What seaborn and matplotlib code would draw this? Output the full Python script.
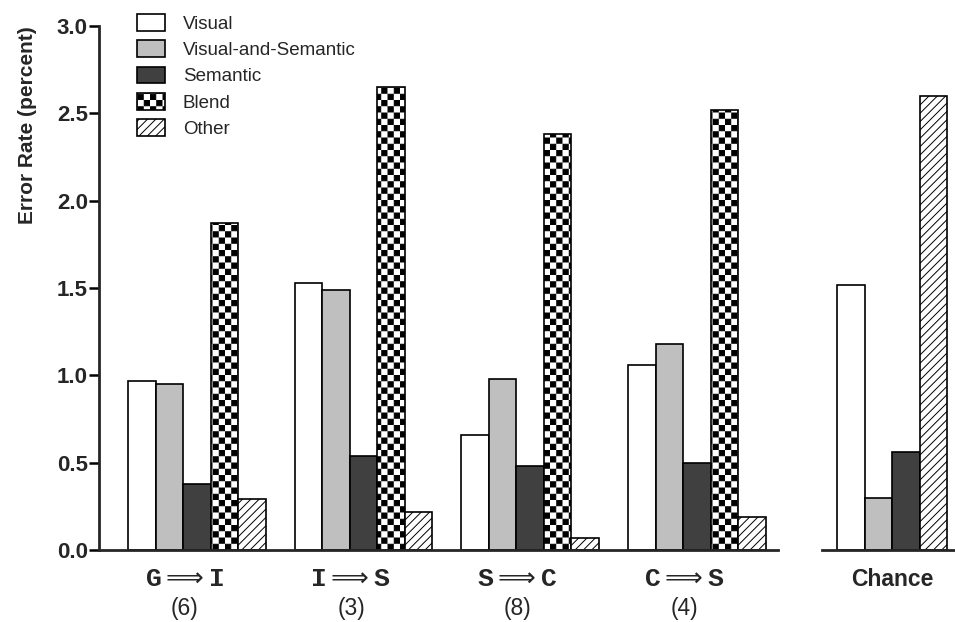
import warnings
import numpy as np
import pandas as pd
import matplotlib
matplotlib.use('Agg')
import matplotlib.pyplot as plt
import matplotlib.hatch as mhatch
import matplotlib.transforms as mtrans
from matplotlib.path import Path
import seaborn as sns
warnings.filterwarnings('ignore')

# error rates (percent)
pairs = [r'G$\Longrightarrow$I', r'I$\Longrightarrow$S', r'S$\Longrightarrow$C', r'C$\Longrightarrow$S']
counts = ['(6)', '(3)', '(8)', '(4)']
types = ['Visual', 'Visual-and-Semantic', 'Semantic', 'Blend', 'Other']
visual = [0.97, 1.53, 0.66, 1.06]
vis_sem = [0.95, 1.49, 0.98, 1.18]
semantic = [0.38, 0.54, 0.48, 0.50]
blend = [1.87, 2.65, 2.38, 2.52]
other = [0.29, 0.22, 0.07, 0.19]

chance_label = 'Chance'
chance_types = ['Visual', 'Visual-and-Semantic', 'Semantic', 'Other']
chance_vals = [1.52, 0.30, 0.56, 2.60]

fills = {'Visual': 'white', 'Visual-and-Semantic': '#bfbfbf', 'Semantic': '#404040',
         'Blend': 'white', 'Other': 'white'}
hatches = {'Blend': 'c', 'Other': '////'}


# checkerboard hatch, matplotlib has none built in
class CheckerHatch(mhatch.HatchPatternBase):
    def __init__(self, hatch, density):
        self.n = 16 if 'c' in hatch else 0
        self.num_vertices = 5 * (self.n * self.n // 2)

    def set_vertices_and_codes(self, vertices, codes):
        s = 1.0 / self.n
        d = 0.005
        k = 0
        for i in range(self.n):
            for j in range(self.n):
                if (i + j) % 2:
                    continue
                x, y = i * s, j * s
                vertices[k:k + 5] = [(x + d, y + d), (x + s - d, y + d), (x + s - d, y + s - d),
                                     (x + d, y + s - d), (x + d, y + d)]
                codes[k:k + 5] = [Path.MOVETO, Path.LINETO, Path.LINETO, Path.LINETO, Path.CLOSEPOLY]
                k += 5


mhatch._hatch_types.append(CheckerHatch)

sns.set_theme(style='ticks')
plt.rcParams['font.family'] = ['Liberation Sans', 'DejaVu Sans']
plt.rcParams['hatch.linewidth'] = 0.7
plt.rcParams['hatch.color'] = 'black'

rows = []
for i, p in enumerate(pairs):
    for t, series in zip(types, [visual, vis_sem, semantic, blend, other]):
        rows.append((p, t, series[i]))
df = pd.DataFrame(rows, columns=['pair', 'type', 'rate'])
chance_df = pd.DataFrame({'pair': [chance_label] * len(chance_types), 'type': chance_types, 'rate': chance_vals})

fig = plt.figure(figsize=(9.55, 6.22), dpi=100)
ax = fig.add_axes([99 / 955, 72 / 622, 679 / 955, 524 / 622])
ax2 = fig.add_axes([822 / 955, 72 / 622, 133 / 955, 524 / 622])

sns.barplot(data=df, x='pair', y='rate', hue='type', hue_order=types, palette=fills,
            width=0.825, saturation=1, edgecolor='black', linewidth=1.2,
            errorbar=None, legend=False, ax=ax)
for t, cont in zip(types, ax.containers):
    for bar in cont:
        bar.set_hatch(hatches.get(t))

sns.barplot(data=chance_df, x='pair', y='rate', hue='type', hue_order=chance_types, palette=fills,
            width=0.827, saturation=1, edgecolor='black', linewidth=1.2,
            errorbar=None, legend=False, ax=ax2)
for t, cont in zip(chance_types, ax2.containers):
    for bar in cont:
        bar.set_hatch(hatches.get(t))

for a in (ax, ax2):
    a.set_ylim(0, 3)
    a.set_xlabel('')
    a.tick_params(axis='x', length=0)
    for side in ('top', 'right'):
        a.spines[side].set_visible(False)
    a.spines['bottom'].set_linewidth(2)

# group labels sit a little left of the group centres in the original
label_pos = np.arange(len(pairs)) - 0.075
ax.set_xlim(-0.587, 3.487)
ax.set_xticks(label_pos)
ax.set_xticklabels(pairs, family='Liberation Mono', fontweight='bold', fontsize=19)
ax.tick_params(axis='x', pad=12)
ax.spines['left'].set_linewidth(2)
ax.set_yticks(np.arange(0, 3.01, 0.5))
ax.set_yticklabels([f'{v:.1f}' for v in np.arange(0, 3.01, 0.5)], fontweight='bold', fontsize=16)
ax.tick_params(axis='y', length=7, width=1.8, pad=1, color='black')
ax.set_ylabel('Error Rate (percent)', fontweight='bold', fontsize=15, labelpad=14, loc='top')

trans = mtrans.blended_transform_factory(ax.transData, ax.transAxes)
for x, c in zip(label_pos, counts):
    ax.text(x, -0.111, c, transform=trans, ha='center', va='center', fontsize=16.5)

ax2.set_xlim(-0.53, 0.47)
ax2.spines['left'].set_visible(False)
ax2.set_yticks([])
ax2.set_ylabel('')
ax2.set_xticks([0])
ax2.set_xticklabels([chance_label], fontweight='bold', fontsize=16.5)
ax2.tick_params(axis='x', pad=13)

handles = [cont.patches[0] for cont in ax.containers]
ax.legend(handles, types, loc='upper left', bbox_to_anchor=(137 / 955, 1 - 14 / 622),
          bbox_transform=fig.transFigure, frameon=False, fontsize=13.5,
          handlelength=1.5, handleheight=1.0, handletextpad=0.95, labelspacing=0.4,
          borderpad=0, borderaxespad=0)

fig.savefig('out.png', dpi=100)
